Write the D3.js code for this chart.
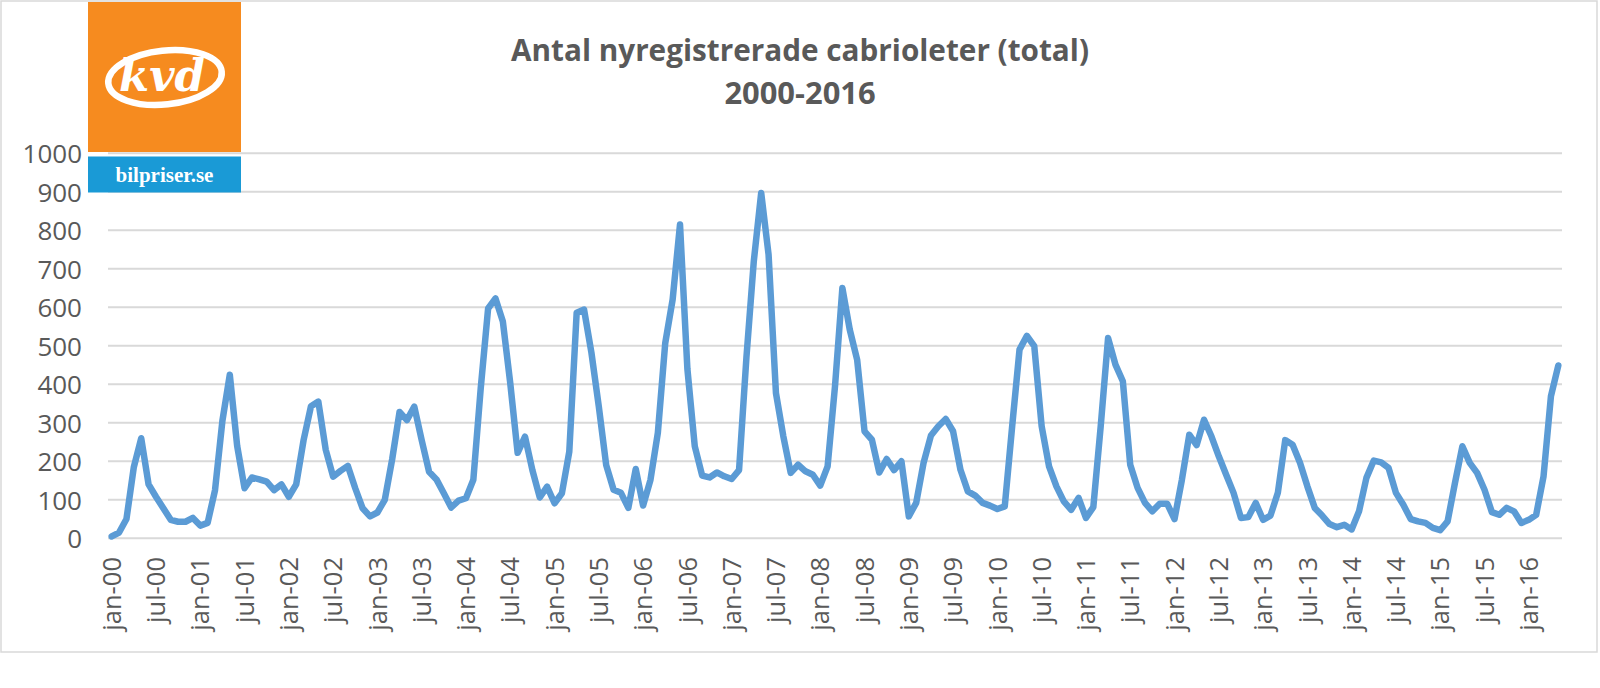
<!DOCTYPE html>
<html><head><meta charset="utf-8">
<script src="https://cdn.jsdelivr.net/npm/d3@7/dist/d3.min.js"></script>
<style>html,body{margin:0;padding:0;background:#fff;}svg{display:block;}</style>
</head><body>
<svg id="chart" width="1600" height="688"></svg>
<script>
const titleLines = ["Antal nyregistrerade cabrioleter (total)", "2000-2016"];
const monthCount = 197; // jan-00 .. may-16
const tickLabels = ["jan-00","jul-00","jan-01","jul-01","jan-02","jul-02","jan-03","jul-03","jan-04","jul-04","jan-05","jul-05","jan-06","jul-06","jan-07","jul-07","jan-08","jul-08","jan-09","jul-09","jan-10","jul-10","jan-11","jul-11","jan-12","jul-12","jan-13","jul-13","jan-14","jul-14","jan-15","jul-15","jan-16"];
const yTicks = [0,100,200,300,400,500,600,700,800,900,1000];
const values = [
5,15,50,185,260,140,108,78,48,43,43,53,
33,40,125,305,425,240,130,158,153,147,125,140,
108,140,255,343,355,230,160,175,188,130,78,57,
67,100,205,328,307,342,255,173,153,117,80,98,
104,152,390,597,623,563,403,222,264,177,106,134,
91,117,225,586,594,482,342,190,126,118,79,180,
85,152,274,507,620,815,440,239,163,158,171,161,
154,177,470,720,897,737,377,265,170,191,174,165,
137,187,395,650,542,464,278,256,171,206,177,200,
57,92,196,267,291,310,278,178,122,111,92,85,
76,83,290,490,526,499,291,187,135,96,74,105,
53,81,291,520,451,408,191,131,92,70,90,90,
50,152,269,242,308,265,213,165,118,53,55,92,
48,59,118,255,243,196,135,79,59,37,29,35,
23,70,157,202,197,183,118,87,50,44,40,27,
21,44,144,239,196,170,126,68,61,79,70,40,
48,61,161,369,449
];
const categories = d3.range(monthCount);

const svg = d3.select("#chart");
const textColor = "#595959";
const gridColor = "#d9d9d9";

// outer border
svg.append("rect").attr("x",1).attr("y",1).attr("width",1596).attr("height",651)
  .attr("fill","#fff").attr("stroke",gridColor).attr("stroke-width",1.5);

const x = d3.scaleBand().domain(categories).range([108, 1562]).paddingInner(0).paddingOuter(0);
const y = d3.scaleLinear().domain([0,1000]).range([538.3, 153.3]);
const cx = i => x(i) + x.bandwidth()/2;

// gridlines
svg.append("g").selectAll("line").data(yTicks).join("line")
  .attr("x1",108).attr("x2",1562)
  .attr("y1",d=>y(d)).attr("y2",d=>y(d))
  .attr("stroke",gridColor).attr("stroke-width",2);

// y axis labels
const yAxis = d3.axisLeft(y).tickValues(yTicks).tickSize(0).tickPadding(0).tickFormat(d3.format("d"));
const yg = svg.append("g").attr("transform","translate(82,0)").call(yAxis);
yg.select(".domain").remove();
yg.selectAll("text").attr("font-family","Open Sans, sans-serif").attr("font-size",26)
  .attr("fill",textColor).attr("dy","0.36em");

// x axis labels
const tickIdx = tickLabels.map((_,k)=>k*6);
const xAxis = d3.axisBottom(x).tickValues(tickIdx).tickSize(0).tickFormat((d)=>tickLabels[d/6]);
const xg = svg.append("g").attr("transform","translate(0,557)").call(xAxis);
xg.select(".domain").remove();
xg.selectAll("text").attr("font-family","Open Sans, sans-serif").attr("font-size",25.5)
  .attr("fill",textColor)
  .attr("transform","rotate(-90)")
  .attr("text-anchor","end").attr("x",0).attr("y",0).attr("dy","0.36em");

// line
const line = d3.line().x((d,i)=>cx(i)).y(d=>y(d));
svg.append("path").datum(values).attr("d",line)
  .attr("fill","none").attr("stroke","#5b9bd5").attr("stroke-width",6.5)
  .attr("stroke-linejoin","round").attr("stroke-linecap","round");

// title
const t1 = svg.append("text").attr("x",800).attr("y",61).attr("text-anchor","middle")
  .attr("font-family","Open Sans, sans-serif").attr("font-weight",700).attr("font-size",28)
  .attr("fill",textColor).text(titleLines[0]);
const w = t1.node().getComputedTextLength();
const fs = 28 * 578 / w;
t1.attr("font-size", fs);
svg.append("text").attr("x",800).attr("y",104).attr("text-anchor","middle")
  .attr("font-family","Open Sans, sans-serif").attr("font-weight",700).attr("font-size",fs * 1.04)
  .attr("fill",textColor).text(titleLines[1]);

// logo
const logo = svg.append("g");
logo.append("rect").attr("x",88).attr("y",2).attr("width",153).attr("height",150).attr("fill","#f68b1f");
logo.append("rect").attr("x",88).attr("y",156.5).attr("width",153).attr("height",36).attr("fill","#1a9ad6");
logo.append("ellipse").attr("cx",165).attr("cy",77.5).attr("rx",57).attr("ry",27)
  .attr("transform","rotate(-6,165,77.5)")
  .attr("fill","none").attr("stroke","#fff").attr("stroke-width",6.5);
logo.append("text").attr("x",162).attr("y",91).attr("text-anchor","middle")
  .attr("font-family","DejaVu Serif, serif").attr("font-weight",700).attr("font-style","italic")
  .attr("font-size",44).attr("fill","#fff").attr("textLength",86).attr("lengthAdjust","spacingAndGlyphs").text("kvd");
logo.append("text").attr("x",164.5).attr("y",182).attr("text-anchor","middle")
  .attr("font-family","Liberation Serif, serif").attr("font-weight",700)
  .attr("font-size",21).attr("fill","#fff").text("bilpriser.se");
</script>
</body></html>
